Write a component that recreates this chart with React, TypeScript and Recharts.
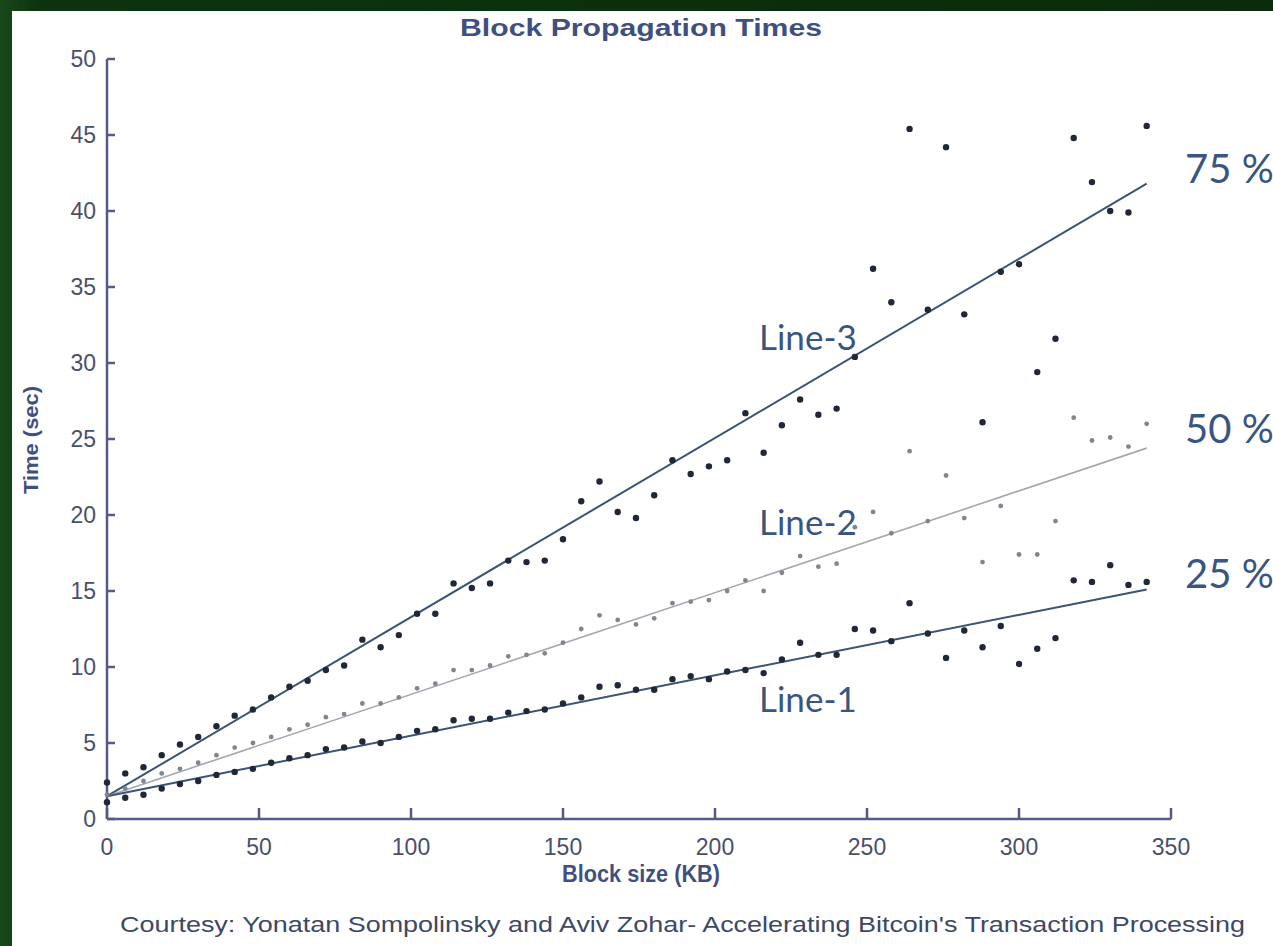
import { ComposedChart, Line, Scatter, XAxis, YAxis } from 'recharts';

// block size (KB) of every measured point, shared by the three percentiles
const blockSizes = [
  0, 6, 12, 18, 24, 30, 36, 42, 48, 54, 60, 66, 72, 78, 84, 90, 96, 102, 108, 114,
  120, 126, 132, 138, 144, 150, 156, 162, 168, 174, 180, 186, 192, 198, 204, 210,
  216, 222, 228, 234, 240, 246, 252, 258, 264, 270, 276, 282, 288, 294, 300, 306,
  312, 318, 324, 330, 336, 342,
];

// 25 % (Line-1)
const line1Times = [
  1.1, 1.4, 1.6, 2.0, 2.3, 2.5, 2.9, 3.1, 3.3, 3.7, 4.0, 4.2, 4.6, 4.7, 5.1, 5.0,
  5.4, 5.8, 5.9, 6.5, 6.6, 6.6, 7.0, 7.1, 7.2, 7.6, 8.0, 8.7, 8.8, 8.5, 8.5, 9.2,
  9.4, 9.2, 9.7, 9.8, 9.6, 10.5, 11.6, 10.8, 10.8, 12.5, 12.4, 11.7, 14.2, 12.2,
  10.6, 12.4, 11.3, 12.7, 10.2, 11.2, 11.9, 15.7, 15.6, 16.7, 15.4, 15.6,
];

// 50 % (Line-2)
const line2Times = [
  1.6, 2.0, 2.5, 3.0, 3.3, 3.7, 4.2, 4.7, 5.0, 5.4, 5.9, 6.2, 6.7, 6.9, 7.6, 7.6,
  8.0, 8.6, 8.9, 9.8, 9.8, 10.1, 10.7, 10.8, 10.9, 11.6, 12.5, 13.4, 13.1, 12.8,
  13.2, 14.2, 14.3, 14.4, 15.0, 15.7, 15.0, 16.2, 17.3, 16.6, 16.8, 19.2, 20.2,
  18.8, 24.2, 19.6, 22.6, 19.8, 16.9, 20.6, 17.4, 17.4, 19.6, 26.4, 24.9, 25.1,
  24.5, 26.0,
];

// 75 % (Line-3)
const line3Times = [
  2.4, 3.0, 3.4, 4.2, 4.9, 5.4, 6.1, 6.8, 7.2, 8.0, 8.7, 9.1, 9.8, 10.1, 11.8, 11.3,
  12.1, 13.5, 13.5, 15.5, 15.2, 15.5, 17.0, 16.9, 17.0, 18.4, 20.9, 22.2, 20.2,
  19.8, 21.3, 23.6, 22.7, 23.2, 23.6, 26.7, 24.1, 25.9, 27.6, 26.6, 27.0, 30.4,
  36.2, 34.0, 45.4, 33.5, 44.2, 33.2, 26.1, 36.0, 36.5, 29.4, 31.6, 44.8, 41.9,
  40.0, 39.9, 45.6,
];

// fitted lines: start / end block size and time
const fitSizes = [0, 342];
const line1Fit = [1.5, 15.1];
const line2Fit = [1.5, 24.4];
const line3Fit = [1.5, 41.8];

const xTicks = [0, 50, 100, 150, 200, 250, 300, 350];
const yTicks = [0, 5, 10, 15, 20, 25, 30, 35, 40, 45, 50];

const W = 1273;
const H = 946;
const AXIS = '#555b88';
const TICK_TEXT = '#4a4f6a';
const TITLE = '#3f5080';
const NOTE = '#3a5580';
const DARK_DOT = '#1f2738';
const GRAY_DOT = '#80868f';
const DARK_LINE = '#3b5374';
const GRAY_LINE = '#a3a7ae';

const toPoints = (times: number[]) => blockSizes.map((x, i) => ({ x, y: times[i] }));
const toFit = (ys: number[]) => fitSizes.map((x, i) => ({ x, y: ys[i] }));

// ticks point inwards (negative tickSize); the margin brings the label anchor back to the axis line
const XTick = (props: any) => (
  <text x={props.x} y={props.y + 36} textAnchor="middle" fill={TICK_TEXT}
    fontFamily="'Liberation Sans', Arial, sans-serif" fontSize={23}>
    {props.payload.value}
  </text>
);

const YTick = (props: any) => (
  <text x={props.x - 11} y={props.y + 8} textAnchor="end" fill={TICK_TEXT}
    fontFamily="'Liberation Sans', Arial, sans-serif" fontSize={23}>
    {props.payload.value}
  </text>
);

const dot = (r: number, fill: string) => (props: any) =>
  <circle cx={props.cx} cy={props.cy} r={r} fill={fill} />;

export default function App() {
  return (
    <div style={{
      position: 'absolute', left: 0, top: 0, width: W, height: H, overflow: 'hidden',
      background: 'linear-gradient(to right, #17491a 0px, #0c330f 40px, #0a2c0c 100%)',
    }}>
      <div style={{ position: 'absolute', left: 12, top: 11, right: 0, bottom: 0, background: '#fff' }} />
      <div style={{ position: 'absolute', left: 0, top: 0 }}>
        <ComposedChart width={W} height={H} margin={{ top: 59, right: 102, bottom: 67, left: 47 }}>
          <XAxis type="number" dataKey="x" domain={[0, 350]} ticks={xTicks} height={60}
            axisLine={{ stroke: AXIS, strokeWidth: 2.5 }} tickLine={{ stroke: AXIS, strokeWidth: 2.5 }}
            tickSize={-11} tickMargin={11} tick={<XTick />} />
          <YAxis type="number" dataKey="y" domain={[0, 50]} ticks={yTicks} width={60}
            axisLine={{ stroke: AXIS, strokeWidth: 2.5 }} tickLine={{ stroke: AXIS, strokeWidth: 2.5 }}
            tickSize={-8} tickMargin={8} tick={<YTick />} />
          <Line data={toFit(line3Fit)} dataKey="y" type="linear" stroke={DARK_LINE}
            strokeWidth={2} dot={false} activeDot={false} isAnimationActive={false} />
          <Line data={toFit(line2Fit)} dataKey="y" type="linear" stroke={GRAY_LINE}
            strokeWidth={1.6} dot={false} activeDot={false} isAnimationActive={false} />
          <Line data={toFit(line1Fit)} dataKey="y" type="linear" stroke={DARK_LINE}
            strokeWidth={2} dot={false} activeDot={false} isAnimationActive={false} />
          <Scatter data={toPoints(line3Times)} dataKey="y" shape={dot(3.2, DARK_DOT)} isAnimationActive={false} />
          <Scatter data={toPoints(line2Times)} dataKey="y" shape={dot(2.4, GRAY_DOT)} isAnimationActive={false} />
          <Scatter data={toPoints(line1Times)} dataKey="y" shape={dot(3.2, DARK_DOT)} isAnimationActive={false} />
        </ComposedChart>
      </div>
      <svg width={W} height={H} style={{ position: 'absolute', left: 0, top: 0, pointerEvents: 'none' }}>
        <g fontFamily="'Liberation Sans Narrow', 'Liberation Sans', Arial, sans-serif" fontWeight="bold" fill={TITLE}>
          <text x={641} y={36} textAnchor="middle" fontSize={24} textLength={362} lengthAdjust="spacingAndGlyphs">
            Block Propagation Times
          </text>
          <text x={641} y={882} textAnchor="middle" fontSize={23} textLength={158} lengthAdjust="spacingAndGlyphs">
            Block size (KB)
          </text>
          <text transform="translate(38, 440) rotate(-90)" textAnchor="middle" fontSize={21}
            textLength={108} lengthAdjust="spacingAndGlyphs">
            Time (sec)
          </text>
        </g>
        <text x={120} y={932} fontSize={22} fill="#3d4866" textLength={1125} lengthAdjust="spacingAndGlyphs"
          fontFamily="'Liberation Sans Narrow', 'Liberation Sans', Arial, sans-serif">
          Courtesy: Yonatan Sompolinsky  and Aviv Zohar- Accelerating Bitcoin's Transaction Processing
        </text>
        <g fontFamily="Lato, 'Open Sans', sans-serif" fill={NOTE}>
          <text x={759} y={350} fontSize={35}>Line-3</text>
          <text x={759} y={535} fontSize={35}>Line-2</text>
          <text x={759} y={712} fontSize={35}>Line-1</text>
          <text x={1185} y={183} fontSize={40}>75 %</text>
          <text x={1185} y={443} fontSize={40}>50 %</text>
          <text x={1185} y={588} fontSize={40}>25 %</text>
        </g>
      </svg>
    </div>
  );
}
